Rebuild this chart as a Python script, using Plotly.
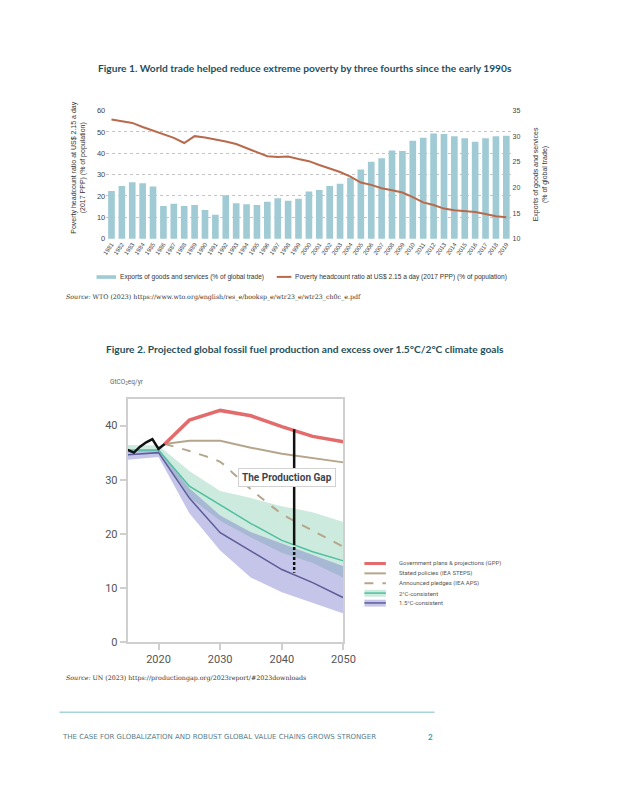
import plotly.graph_objects as go

W, H = 618, 800
def px(x): return x / W
def py(y): return 1 - y / H

# ---------------- Figure 1 data ----------------
years = [str(y) for y in range(1981, 2020)]
exports = [19.3, 20.3, 21.0, 20.8, 20.2, 16.4, 16.8, 16.4, 16.6, 15.6, 14.7, 18.5, 16.9, 16.7, 16.6,
           17.2, 17.9, 17.4, 17.8, 19.2, 19.5, 20.3, 20.7, 21.9, 23.5, 25.0, 25.7, 27.2, 27.1, 29.1,
           29.7, 30.5, 30.4, 30.0, 29.6, 28.9, 29.6, 30.0, 30.1]
poverty = [55.8, 55.1, 54.2, 52.3, 50.5, 48.8, 47.2, 44.8, 48.0, 47.4, 46.5, 45.5, 44.3, 42.3, 40.5,
           38.6, 38.2, 38.5, 37.3, 36.3, 34.5, 32.9, 31.2, 29.1, 26.3, 25.2, 23.6, 22.7, 21.6, 19.5,
           17.0, 15.8, 14.1, 13.3, 12.8, 12.5, 11.6, 10.5, 10.0]
left_ticks = [0, 10, 20, 30, 40, 50, 60]
right_ticks = [10, 15, 20, 25, 30, 35]
fig1_legend = ["Exports of goods and services (% of global trade)",
               "Poverty headcount ratio at US$ 2.15 a day (2017 PPP) (% of population)"]

# ---------------- Figure 2 data ----------------
hist_years = [2015, 2016, 2017, 2018, 2019, 2020, 2021]
hist_vals = [35.5, 35.0, 36.1, 36.9, 37.5, 35.7, 36.6]
proj_years = [2021, 2025, 2030, 2035, 2040, 2045, 2050]
gpp = [36.6, 41.0, 42.8, 41.8, 39.8, 38.0, 37.0]
steps = [36.6, 37.2, 37.2, 35.9, 34.8, 34.0, 33.2]
aps_years = [2021, 2025, 2030, 2032, 2035, 2040, 2045, 2050]
aps = [36.6, 35.3, 33.3, 31.3, 28.2, 23.7, 20.6, 17.6]
band_years = [2015, 2020, 2025, 2030, 2035, 2040, 2045, 2050]
c2_med = [35.5, 35.5, 28.8, 25.4, 21.9, 18.8, 16.7, 15.0]
c2_up = [36.4, 36.3, 31.6, 27.9, 26.6, 25.1, 24.0, 22.2]
c2_lo = [35.0, 35.2, 26.8, 22.4, 19.3, 16.5, 14.6, 11.9]
c15_med = [34.6, 35.0, 26.6, 20.2, 16.8, 13.4, 11.0, 8.2]
c15_up = [35.4, 35.6, 28.4, 23.4, 20.3, 18.2, 16.1, 14.0]
c15_lo = [33.7, 34.2, 23.8, 16.9, 11.9, 9.2, 7.3, 5.3]
gap_year = 2042
gap_top, gap_mid, gap_bottom = 39.3, 18.5, 12.8
fig2_ticks_x = [2020, 2030, 2040, 2050]
fig2_ticks_y = [0, 10, 20, 30, 40]
fig2_legend = ["Government plans & projections (GPP)", "Stated policies (IEA STEPS)",
               "Announced pledges (IEA APS)", "2°C-consistent", "1.5°C-consistent"]

# colours
BAR = "#a0cbd5"
POV = "#b86a4c"
RED = "#e36b6b"
TAN = "#b5a68b"
TEAL = "#4fc09f"
PURP = "#5c5c98"
GREEN_F = "rgba(120,200,165,0.38)"
PURP_F = "rgba(110,110,200,0.40)"
TITLE_C = "#1f4f5b"

fig = go.Figure()

# Figure 1 traces
fig.add_trace(go.Bar(x=years, y=exports, xaxis="x", yaxis="y", marker_color=BAR,
                     marker_line_width=0, name=fig1_legend[0]))
fig.add_trace(go.Scatter(x=years, y=poverty, xaxis="x", yaxis="y2", mode="lines",
                         line=dict(color=POV, width=2), name=fig1_legend[1]))

# Figure 2 traces
fig.add_trace(go.Scatter(x=band_years + band_years[::-1], y=c2_up + c2_lo[::-1], xaxis="x2", yaxis="y3",
                         fill="toself", fillcolor=GREEN_F, line=dict(width=0), mode="lines", hoverinfo="skip"))
fig.add_trace(go.Scatter(x=band_years + band_years[::-1], y=c15_up + c15_lo[::-1], xaxis="x2", yaxis="y3",
                         fill="toself", fillcolor=PURP_F, line=dict(width=0), mode="lines", hoverinfo="skip"))
fig.add_trace(go.Scatter(x=proj_years, y=steps, xaxis="x2", yaxis="y3", mode="lines",
                         line=dict(color=TAN, width=2)))
fig.add_trace(go.Scatter(x=aps_years, y=aps, xaxis="x2", yaxis="y3", mode="lines",
                         line=dict(color=TAN, width=2, dash="dash", shape="spline", smoothing=0.6)))
fig.add_trace(go.Scatter(x=band_years, y=c2_med, xaxis="x2", yaxis="y3", mode="lines",
                         line=dict(color=TEAL, width=1.5)))
fig.add_trace(go.Scatter(x=band_years, y=c15_med, xaxis="x2", yaxis="y3", mode="lines",
                         line=dict(color=PURP, width=1.5)))
fig.add_trace(go.Scatter(x=proj_years, y=gpp, xaxis="x2", yaxis="y3", mode="lines",
                         line=dict(color=RED, width=3.5)))
fig.add_trace(go.Scatter(x=hist_years, y=hist_vals, xaxis="x2", yaxis="y3", mode="lines",
                         line=dict(color="#111111", width=2.5)))
fig.add_trace(go.Scatter(x=[gap_year, gap_year], y=[gap_top, gap_mid], xaxis="x2", yaxis="y3", mode="lines",
                         line=dict(color="#111111", width=2.5)))
fig.add_trace(go.Scatter(x=[gap_year, gap_year], y=[gap_mid, gap_bottom], xaxis="x2", yaxis="y3", mode="lines",
                         line=dict(color="#111111", width=2.5, dash="3px,2px")))

axfont = dict(family="Liberation Sans, Arial", size=7, color="#444")
fig.update_layout(
    width=W, height=H, margin=dict(l=0, r=0, t=0, b=0),
    paper_bgcolor="white", plot_bgcolor="white", showlegend=False, bargap=0.36,
    xaxis=dict(domain=[px(105), px(521)], type="category", anchor="y", tickangle=-55,
               tickfont=dict(family="Liberation Sans, Arial", size=6, color="#444"),
               showgrid=False, showline=False, ticks="", zeroline=False),
    yaxis=dict(domain=[py(238), py(108)], range=[10, 35], side="right", anchor="x",
               tickvals=right_ticks, tickfont=axfont, showgrid=False, zeroline=False, showline=False,
               ticks=""),
    yaxis2=dict(overlaying="y", side="left", anchor="x", range=[0, 60], tickvals=left_ticks,
                tickfont=dict(family="Liberation Sans, Arial", size=7.5, color="#444"),
                showgrid=True, gridcolor="#c4c4c4", griddash="dot", gridwidth=1, zeroline=False,
                showline=False, ticks=""),
    xaxis2=dict(domain=[px(127), px(348.5)], anchor="y3", range=[2015, 2050], tickvals=fig2_ticks_x,
                ticks="outside", ticklen=6, tickwidth=2, tickcolor="#cfcfcf",
                showline=True, linecolor="#cfcfcf", linewidth=2, mirror=True, showgrid=False,
                zeroline=False, tickfont=dict(family="Roboto", size=11, color="#555")),
    yaxis3=dict(domain=[py(647), py(400)], anchor="x2", range=[0, 45], tickvals=fig2_ticks_y,
                ticks="outside", ticklen=6, tickwidth=2, tickcolor="#cfcfcf",
                showline=True, linecolor="#cfcfcf", linewidth=2, mirror=True, showgrid=False,
                zeroline=False, tickfont=dict(family="Roboto", size=11, color="#555")),
)

ann = []
def text(x, y, t, size, color="#333", family="Liberation Sans, Arial", xanchor="left", angle=0, **kw):
    ann.append(dict(x=px(x), y=py(y), xref="paper", yref="paper", text=t, showarrow=False,
                    xanchor=xanchor, yanchor="middle", textangle=angle,
                    font=dict(size=size, color=color, family=family), **kw))

text(309, 65, "<b>Figure 1. World trade helped reduce extreme poverty by three fourths since the early 1990s</b>",
     10.2, TITLE_C, "Lato", "center")
text(309, 350, "<b>Figure 2. Projected global fossil fuel production and excess over 1.5°C/2°C climate goals</b>",
     10.2, TITLE_C, "Lato", "center")
text(77, 166, "Poverty headcount ratio at US$ 2.15 a day<br>(2017 PPP) (% of population)", 7, "#333",
     xanchor="center", angle=-90)
text(551, 173, "Exports of goods and services<br>(% of global trade)", 7, "#333", xanchor="center", angle=-90)
text(117, 276.7, fig1_legend[0], 6.6, "#333")
text(297, 276.7, fig1_legend[1], 6.6, "#333")
text(62, 297, "<i>Source:</i> WTO (2023) https://www.wto.org/english/res_e/booksp_e/wtr23_e/wtr23_ch0c_e.pdf",
     6.3, "#333", "DejaVu Serif")
text(62, 683, "<i>Source:</i> UN (2023) https://productiongap.org/2023report/#2023downloads",
     6.3, "#333", "DejaVu Serif")
text(107, 383, "GtCO<sub>2</sub>eq/yr", 6.5, "#666", "Roboto")
for i, lab in enumerate(fig2_legend):
    text(403, 567.3 + 10 * i, lab, 6, "#555", "Roboto")
text(57, 743, "THE CASE FOR GLOBALIZATION AND ROBUST GLOBAL VALUE CHAINS GROWS STRONGER", 7, "#5b7d87",
     "DejaVu Sans")
text(442, 743, "<b>2</b>", 8, "#3a95a8", "Lato", "right")

ann.append(dict(x=2040.8, y=30.4, xref="x2", yref="y3", text="<b>The Production Gap</b>", showarrow=False,
                bgcolor="white", bordercolor="#d2d2d2", borderwidth=1, borderpad=3,
                font=dict(family="Roboto", size=10, color="#3d4450")))
fig.update_layout(annotations=ann)

shapes = []
def hline(x0, x1, y, color, width, dash="solid"):
    shapes.append(dict(type="line", xref="paper", yref="paper", x0=px(x0), x1=px(x1), y0=py(y), y1=py(y),
                       line=dict(color=color, width=width, dash=dash)))
def rect(x0, x1, y0, y1, fill):
    shapes.append(dict(type="rect", xref="paper", yref="paper", x0=px(x0), x1=px(x1), y0=py(y1), y1=py(y0),
                       fillcolor=fill, line=dict(width=0)))

# figure 1 legend swatches
rect(95, 115, 275, 278.7, BAR)
hline(280, 295, 276.7, POV, 2)
# figure 2 legend swatches
hline(370, 392, 567.3, RED, 3)
hline(370, 392, 577.3, TAN, 2)
hline(370, 392, 587.3, TAN, 2, "dash")
rect(370, 392, 594, 601, GREEN_F)
hline(370, 392, 597.3, TEAL, 1.5)
rect(370, 392, 604, 611, PURP_F)
hline(370, 392, 607.3, PURP, 1.5)
# footer rule
hline(57, 442, 718, "#a8d2dc", 1.5)
fig.update_layout(shapes=shapes)

fig.write_html("out.html")
